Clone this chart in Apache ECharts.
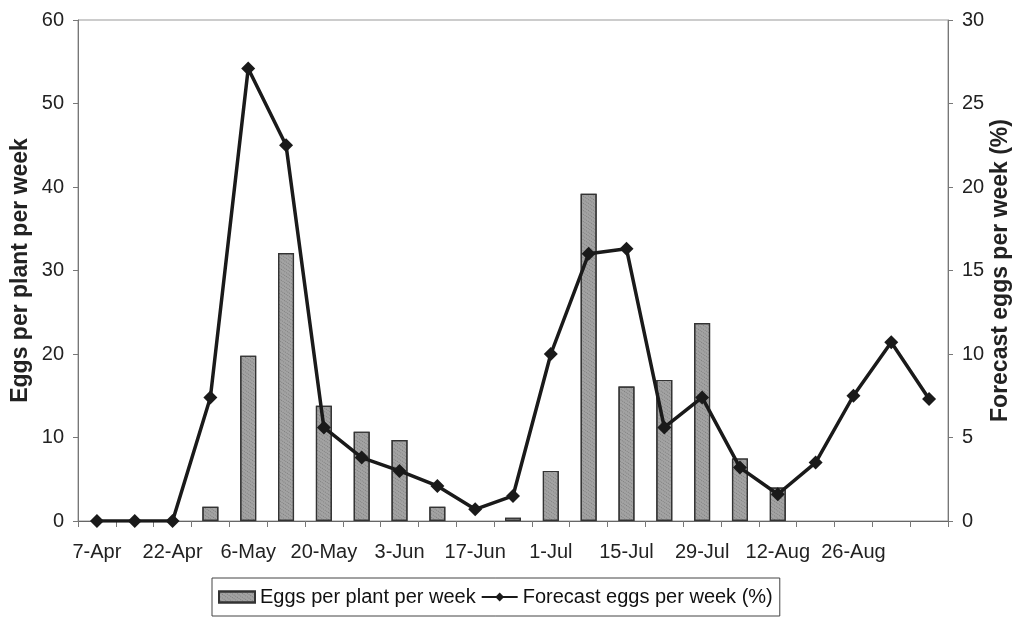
<!DOCTYPE html>
<html>
<head>
<meta charset="utf-8">
<script src="https://cdn.jsdelivr.net/npm/echarts@6/dist/echarts.min.js"></script>
<style>
html,body{margin:0;padding:0;background:#fff;}
#chart{width:1016px;height:623px;}
</style>
</head>
<body>
<div id="chart"></div>
<script>
const categories = ['7-Apr','15-Apr','22-Apr','29-Apr','6-May','13-May','20-May','27-May','3-Jun','10-Jun','17-Jun','24-Jun','1-Jul','8-Jul','15-Jul','22-Jul','29-Jul','5-Aug','12-Aug','19-Aug','26-Aug','2-Sep','9-Sep'];
const shownLabels = ['7-Apr','22-Apr','6-May','20-May','3-Jun','17-Jun','1-Jul','15-Jul','29-Jul','12-Aug','26-Aug'];
const eggsPerPlant = [null,null,null,1.7,19.8,32.1,13.8,10.7,9.7,1.7,null,0.4,6.0,39.2,16.1,16.9,23.7,7.5,4.0,null,null,null,null];
const forecastPct = [0,0,0,7.4,27.1,22.5,5.6,3.8,3.0,2.1,0.7,1.5,10.0,16.0,16.3,5.6,7.4,3.2,1.6,3.5,7.5,10.7,7.3];
const leftTicks = {min:0,max:60,interval:10};
const rightTicks = {min:0,max:30,interval:5};

const chart = echarts.init(document.getElementById('chart'));
const font = 'Liberation Sans, Arial, sans-serif';
chart.setOption({
  backgroundColor:'#fff',
  textStyle:{fontFamily:font,color:'#222'},
  grid:{left:78,right:68,top:20,bottom:102,containLabel:false,outerBoundsMode:'none',show:true,borderColor:'#999',borderWidth:1},
  legend:{
    left:212, top:578,
    itemWidth:36, itemHeight:11, itemGap:5,
    borderColor:'#444', borderWidth:1, padding:[9,7,9,6],
    textStyle:{fontSize:20,color:'#111',fontFamily:font},
    data:[{name:'Eggs per plant per week',icon:'rect'},{name:'Forecast eggs per week (%)'}]
  },
  xAxis:{
    type:'category', data:categories,
    axisLine:{lineStyle:{color:'#666',width:1}},
    axisTick:{show:true,interval:0,length:6,lineStyle:{color:'#777'}},
    axisLabel:{
      interval:0, margin:21, fontSize:20, color:'#222',
      formatter:function(v){return shownLabels.indexOf(v)>=0?v:'';}
    },
    splitLine:{show:false}
  },
  yAxis:[
    {type:'value',min:leftTicks.min,max:leftTicks.max,interval:leftTicks.interval,
     name:'Eggs per plant per week',nameLocation:'middle',nameRotate:90,nameGap:46,nameMoveOverlap:false,
     nameTextStyle:{fontSize:23,fontWeight:'bold',color:'#222'},
     axisLine:{show:true,lineStyle:{color:'#777'}},
     axisTick:{show:true,length:5,lineStyle:{color:'#777'}},
     axisLabel:{fontSize:20,margin:14,color:'#222'},
     splitLine:{show:false}},
    {type:'value',min:rightTicks.min,max:rightTicks.max,interval:rightTicks.interval,position:'right',
     name:'Forecast eggs per week (%)',nameLocation:'middle',nameRotate:90,nameGap:41,nameMoveOverlap:false,
     nameTextStyle:{fontSize:23,fontWeight:'bold',color:'#222'},
     axisLine:{show:true,lineStyle:{color:'#777'}},
     axisTick:{show:true,length:5,lineStyle:{color:'#777'}},
     axisLabel:{fontSize:20,margin:14,color:'#222'},
     splitLine:{show:false}}
  ],
  series:[
    {name:'Eggs per plant per week',type:'bar',yAxisIndex:0,data:eggsPerPlant,barWidth:16,
     itemStyle:{color:'#a3a3a3',borderColor:'#333',borderWidth:1.2,
       decal:{symbol:'rect',symbolSize:1,dashArrayX:[1,1],dashArrayY:[1,2],rotation:0.6,color:'rgba(60,60,60,0.35)'}}},
    {name:'Forecast eggs per week (%)',type:'line',yAxisIndex:1,data:forecastPct,
     symbol:'diamond',symbolSize:14,
     lineStyle:{color:'#1a1a1a',width:3.5},
     itemStyle:{color:'#1a1a1a'}}
  ]
});
</script>
</body>
</html>
